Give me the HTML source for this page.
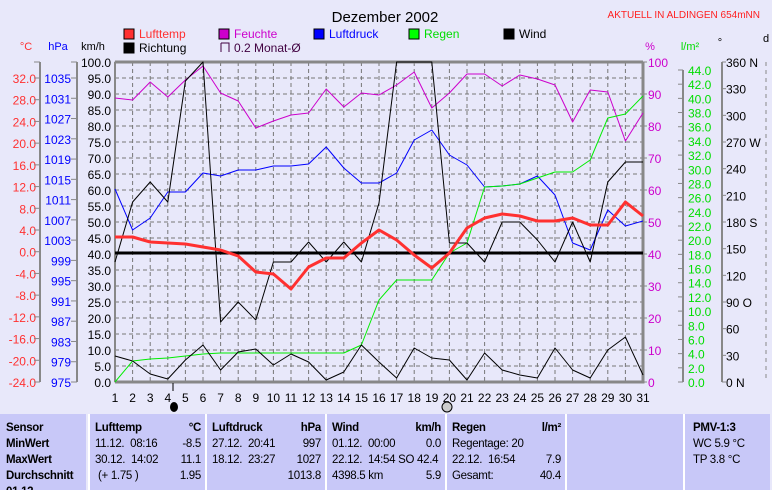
<!DOCTYPE html>
<html><head><meta charset="utf-8"><style>
body{margin:0;background:#e8e8fa;width:772px;height:490px;overflow:hidden;font-family:"Liberation Sans",sans-serif;}
svg{position:absolute;left:0;top:0}
.tb{position:absolute;top:414px;height:76px;background:#c8c8f8;border-left:2px solid #fff;font-family:"Liberation Sans Narrow","Liberation Sans",sans-serif;font-size:11.5px;letter-spacing:-0.3px;color:#000;overflow:hidden}
.tb div{position:absolute;white-space:nowrap}
</style></head><body>
<svg id="s" width="772" height="490" xmlns="http://www.w3.org/2000/svg" font-family="Liberation Sans, sans-serif"></svg>
<div class="tb" style="left:0;width:86px;border-left:none">
<div style="left:6px;top:8px;font-weight:bold">Sensor</div><div style="left:6px;top:24px;font-weight:bold">MinWert</div><div style="left:6px;top:40px;font-weight:bold">MaxWert</div><div style="left:6px;top:56px;font-weight:bold">Durchschnitt</div><div style="left:6px;top:72px;font-weight:bold">01.12.</div></div>
<div class="tb" style="left:88px;width:115px">
<div style="left:5px;top:8px;font-weight:bold">Lufttemp</div><div style="right:4px;top:8px;font-weight:bold">°C</div>
<div style="left:5px;top:24px">11.12.&nbsp; 08:16</div><div style="right:4px;top:24px">-8.5</div>
<div style="left:5px;top:40px">30.12.&nbsp; 14:02</div><div style="right:4px;top:40px">11.1</div>
<div style="left:8px;top:56px">(+ 1.75 )</div><div style="right:4px;top:56px">1.95</div></div>
<div class="tb" style="left:205px;width:118px">
<div style="left:5px;top:8px;font-weight:bold">Luftdruck</div><div style="right:4px;top:8px;font-weight:bold">hPa</div>
<div style="left:5px;top:24px">27.12.&nbsp; 20:41</div><div style="right:4px;top:24px">997</div>
<div style="left:5px;top:40px">18.12.&nbsp; 23:27</div><div style="right:4px;top:40px">1027</div>
<div style="right:4px;top:56px">1013.8</div></div>
<div class="tb" style="left:325px;width:118px">
<div style="left:5px;top:8px;font-weight:bold">Wind</div><div style="right:4px;top:8px;font-weight:bold">km/h</div>
<div style="left:5px;top:24px">01.12.&nbsp; 00:00</div><div style="right:4px;top:24px">0.0</div>
<div style="left:5px;top:40px">22.12.&nbsp; 14:54 SO 42.4</div>
<div style="left:5px;top:56px">4398.5 km</div><div style="right:4px;top:56px">5.9</div></div>
<div class="tb" style="left:445px;width:118px">
<div style="left:5px;top:8px;font-weight:bold">Regen</div><div style="right:4px;top:8px;font-weight:bold">l/m²</div>
<div style="left:5px;top:24px">Regentage: 20</div>
<div style="left:5px;top:40px">22.12.&nbsp; 16:54</div><div style="right:4px;top:40px">7.9</div>
<div style="left:5px;top:56px">Gesamt:</div><div style="right:4px;top:56px">40.4</div></div>
<div class="tb" style="left:565px;width:116px"></div>
<div class="tb" style="left:683px;width:85px">
<div style="left:8px;top:8px;font-weight:bold">PMV-1:3</div>
<div style="left:8px;top:24px">WC 5.9 °C</div><div style="left:8px;top:40px">TP 3.8 °C</div></div>
<script>
const s=document.getElementById('s');let h='';
const X=d=>115+17.6*(d-1);
h+='<text x="385" y="22" font-size="15" text-anchor="middle">Dezember 2002</text>';
h+='<text x="760" y="18" font-size="10" fill="#ff2020" text-anchor="end">AKTUELL IN ALDINGEN 654mNN</text>';
const leg=[[124,38,'#ff3030','#ff3030','Lufttemp'],[219,38,'#cc00cc','#cc00cc','Feuchte'],[314,38,'#0000ff','#0000ff','Luftdruck'],[409,38,'#00ff00','#00dd00','Regen'],[504,38,'#000','#000','Wind'],[124,52,'#000','#000','Richtung']];
leg.forEach(l=>{h+=`<rect x="${l[0]}" y="${l[1]-9}" width="10" height="10" fill="${l[2]}" stroke="#000"/><text x="${l[0]+15}" y="${l[1]}" font-size="12" fill="${l[3]}">${l[4]}</text>`});
h+='<path d="M221 43v9M221 43h8v9" fill="none" stroke="#400040"/><text x="234" y="52" font-size="12" fill="#400040">0.2 Monat-Ø</text>';
h+='<text x="26" y="50" font-size="11" fill="#ff3030" text-anchor="middle">°C</text><text x="58" y="50" font-size="11" fill="#0000ff" text-anchor="middle">hPa</text><text x="93" y="50" font-size="11" text-anchor="middle">km/h</text>';
h+='<text x="650" y="50" font-size="11" fill="#cc00cc" text-anchor="middle">%</text><text x="690" y="50" font-size="11" fill="#00dd00" text-anchor="middle">l/m²</text><text x="720" y="46" font-size="11" text-anchor="middle">°</text><text x="763" y="42" font-size="11">d</text>';
for(let d=2;d<=30;d++)h+=`<line x1="${X(d)}" y1="62" x2="${X(d)}" y2="382" stroke="#777" stroke-dasharray="4,3"/>`;
for(let i=1;i<20;i++){let y=382-16*i;h+=`<line x1="115" y1="${y}" x2="643" y2="${y}" stroke="#777" stroke-dasharray="4,3"/>`}
for(let i=0;i<=20;i++){let y=382-16*i;h+=`<text x="111" y="${y+5}" font-size="12" text-anchor="end">${(i*5).toFixed(1)}</text>`}
for(let i=0;i<=10;i++){let y=382-32*i;h+=`<text x="648" y="${y+5}" font-size="12" fill="#cc00cc">${i*10}</text><line x1="643" y1="${y}" x2="647" y2="${y}" stroke="#888"/>`}
h+='<line x1="40" y1="62" x2="40" y2="382" stroke="#888" stroke-width="2"/><line x1="77" y1="62" x2="77" y2="382" stroke="#888" stroke-width="2"/>';
for(let i=0;i<=14;i++){let v=-24+4*i,y=382-i*304/14;h+=`<text x="36" y="${y+5}" font-size="12" fill="#ff3030" text-anchor="end">${v.toFixed(1)}</text><line x1="34" y1="${y}" x2="40" y2="${y}" stroke="#888"/>`;}
for(let i=0;i<=15;i++){let p=975+4*i,y=382-i*304/15;h+=`<text x="71" y="${y+5}" font-size="12" fill="#0000ff" text-anchor="end">${p}</text><line x1="71" y1="${y}" x2="77" y2="${y}" stroke="#888"/>`}
h+='<line x1="34" y1="62" x2="40" y2="62" stroke="#888"/><line x1="71" y1="62" x2="77" y2="62" stroke="#888"/>';
h+='<line x1="683" y1="70" x2="683" y2="382" stroke="#888" stroke-width="2"/><line x1="722" y1="62" x2="722" y2="382" stroke="#888" stroke-width="2"/>';
for(let i=0;i<=22;i++){let y=382-i*2*312/44;h+=`<text x="688" y="${y+5}" font-size="12" fill="#00dd00">${(i*2).toFixed(1)}</text><line x1="678" y1="${y}" x2="683" y2="${y}" stroke="#888"/>`}
const dn={0:' N',90:' O',180:' S',270:' W',360:' N'};
for(let i=0;i<=12;i++){let v=i*30,y=382-i*320/12;h+=`<text x="726" y="${y+5}" font-size="12">${v}${dn[v]||''}</text><line x1="722" y1="${y}" x2="726" y2="${y}" stroke="#888"/>`}
h+='<line x1="766" y1="62" x2="766" y2="382" stroke="#888" stroke-dasharray="4,4"/>';
h+='<path d="M115 62H643V382H115Z" fill="none" stroke="#888" stroke-width="1"/><path d="M115 62H643M643 62V382H115" fill="none" stroke="#888" stroke-width="3"/>';
h+='<line x1="115" y1="62" x2="115" y2="382" stroke="#888" stroke-width="2"/>';
h+='<line x1="115" y1="253" x2="643" y2="253" stroke="#000" stroke-width="3"/>';
const ser=(ys,c,w)=>{h+=`<polyline fill="none" stroke="${c}" stroke-width="${w}" stroke-linejoin="round" points="${ys.map((y,i)=>X(i+1).toFixed(1)+','+y).join(' ')}"/>`};
ser([98,100,82,97,80,66,93,101,128,121,115,113,89,107,93,95,85,72,108,93,74,74,86,75,79,85,122,90,92,141,113],'#cc00cc',1);
ser([189,230,218,192,192,173,176,170,170,166,166,164,147,168,183,183,173,140,130,155,165,187,186,184,176,195,243,250,210,226,221],'#0000ff',1);
ser([382,361,359,358,356,354,353,353,353,353,353,353,353,353,345,300,280,280,280,253,243,187,186,184,178,172,172,160,118,114,96],'#00ee00',1);
ser([262,202,182,202,81,62,322,302,320,262,262,242,262,242,262,203,62,62,62,243,243,262,222,222,240,262,222,262,182,162,162],'#000',1);
ser([356,361,374,379,360,345,370,352,349,365,354,362,380,372,345,362,378,348,358,360,380,353,370,375,378,348,370,378,350,337,375],'#000',1);
ser([237,237,242,243,244,247,250,256,272,274,289,267,258,258,243,230,240,255,268,253,228,218,214,216,221,221,218,225,225,202,216],'#ff3030',3);
for(let d=1;d<=31;d++)h+=`<text x="${X(d)}" y="402" font-size="12" text-anchor="middle">${d}</text>`;
h+='<line x1="173" y1="383" x2="173" y2="391" stroke="#000"/><ellipse cx="174" cy="407" rx="4" ry="5" fill="#000"/><ellipse cx="447" cy="407" rx="5" ry="5" fill="#ccc" stroke="#000"/>';
s.innerHTML=h;
</script>
</body></html>
